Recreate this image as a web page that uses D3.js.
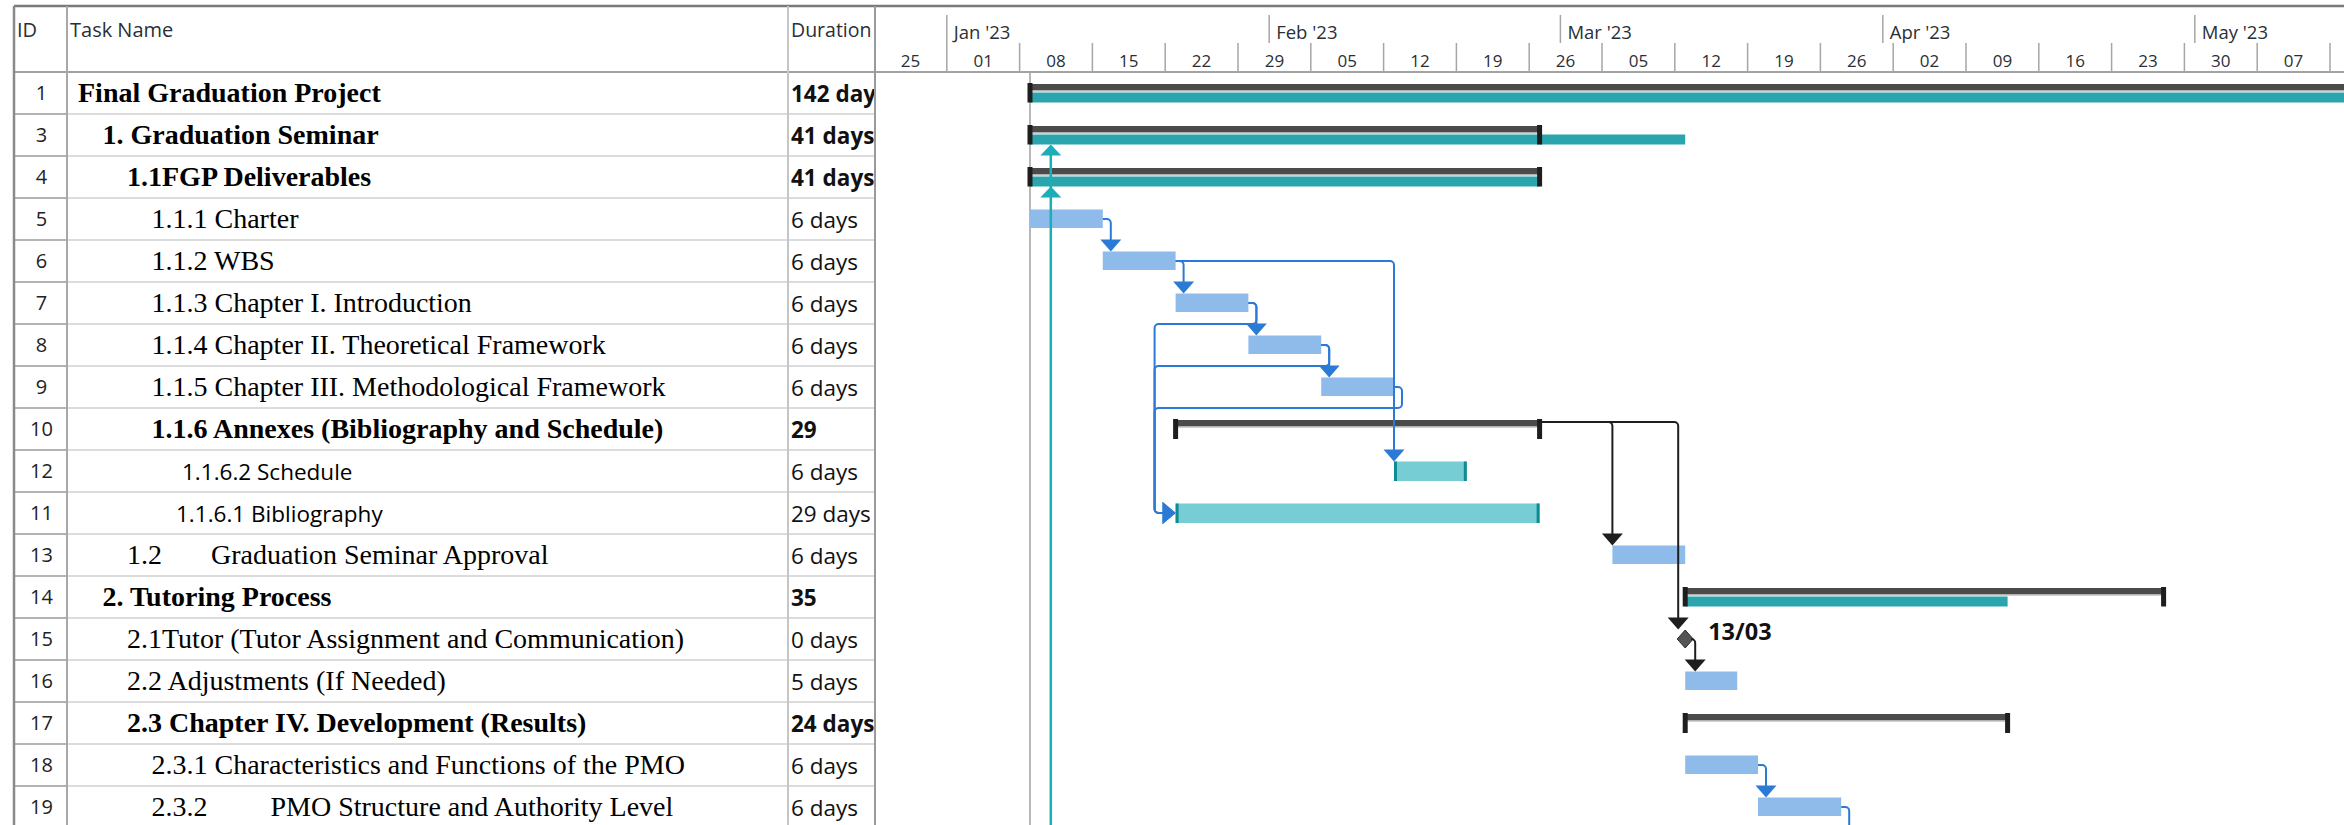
<!DOCTYPE html>
<html>
<head>
<meta charset="utf-8">
<script src="https://cdn.jsdelivr.net/npm/d3@7"></script>
<style>
  html, body { margin: 0; padding: 0; background: #fff; }
  svg { display: block; }
  text { white-space: pre; }
</style>
</head>
<body>
<svg id="chart" width="2344" height="825"></svg>
<script>
// ---------------- DATA ----------------
const ids = ["1","3","4","5","6","7","8","9","10","12","11","13","14","15","16","17","18","19"];
const taskNames = [
  "Final Graduation Project",
  "1. Graduation Seminar",
  "1.1FGP Deliverables",
  "1.1.1 Charter",
  "1.1.2 WBS",
  "1.1.3 Chapter I. Introduction",
  "1.1.4 Chapter II. Theoretical Framework",
  "1.1.5 Chapter III. Methodological Framework",
  "1.1.6 Annexes (Bibliography and Schedule)",
  "1.1.6.2 Schedule",
  "1.1.6.1 Bibliography",
  "1.2       Graduation Seminar Approval",
  "2. Tutoring Process",
  "2.1Tutor (Tutor Assignment and Communication)",
  "2.2 Adjustments (If Needed)",
  "2.3 Chapter IV. Development (Results)",
  "2.3.1 Characteristics and Functions of the PMO",
  "2.3.2         PMO Structure and Authority Level"
];
const durations = ["142 days","41 days","41 days","6 days","6 days","6 days","6 days","6 days","29","6 days","29 days","6 days","35","0 days","5 days","24 days","6 days","6 days"];
const outlineLevels = [0,1,2,3,3,3,3,3,3,4,4,2,1,2,2,2,3,3];
const taskTypes = ["summary","summary","summary","task","task","task","task","task","summary","task","task","task","summary","milestone","task","summary","task","task"];
const startDates = ["2023-01-09","2023-01-09","2023-01-09","2023-01-09","2023-01-16","2023-01-23","2023-01-30","2023-02-06","2023-01-23","2023-02-13","2023-01-23","2023-03-06","2023-03-13","2023-03-13","2023-03-13","2023-03-13","2023-03-13","2023-03-20"];
const finishDates = ["2023-06-20","2023-02-27","2023-02-27","2023-01-16","2023-01-23","2023-01-30","2023-02-06","2023-02-13","2023-02-27","2023-02-20","2023-02-27","2023-03-13","2023-04-28","2023-03-13","2023-03-18","2023-04-13","2023-03-20","2023-03-28"];
// teal bar under summary rows (null = none)
const tealFinishDates = ["2023-06-20","2023-03-13","2023-02-27",null,null,null,null,null,null,null,null,null,"2023-04-13",null,null,null,null,null];
const milestoneLabels = {"15": "13/03"};
const linkFrom = ["5","6","6","7","7","8","8","9","10","10","15","18","19"];
const linkTo   = ["6","7","12","8","11","9","11","11","13","15","16","19","20"];
const timelineStart = "2022-12-25";
const timelineEnd = "2023-05-14";
const projectStart = "2023-01-09";
const progressDate = "2023-01-11";
const progressRows = ["3","4"];

// ---------------- LAYOUT ----------------
const W = 2344, H = 825;
const parse = d3.utcParse("%Y-%m-%d");
const headerBottom = 72, rowH = 42;
const colLeft = 14, colId = 67, colName = 788, colDur = 875;

const x = d3.scaleUtc().domain([parse(timelineStart), parse(timelineEnd)]).range([874, 2330]);
const y = d3.scaleBand().domain(ids).range([headerBottom, headerBottom + rowH * ids.length]);
const cy = id => y(id) + rowH / 2;

const tasks = ids.map((id, i) => ({
  id, name: taskNames[i], dur: durations[i], level: outlineLevels[i], type: taskTypes[i],
  start: parse(startDates[i]), finish: parse(finishDates[i]),
  teal: tealFinishDates[i] ? parse(tealFinishDates[i]) : null
}));
const byId = new Map(tasks.map(t => [t.id, t]));
const altBarIds = new Set(["12","11"]);

const svg = d3.select("#chart");
const defs = svg.append("defs");
defs.append("clipPath").attr("id","ganttClip").append("rect")
  .attr("x", colDur + 1).attr("y", 7).attr("width", W - colDur).attr("height", H);
defs.append("clipPath").attr("id","durClip").append("rect")
  .attr("x", colName).attr("y", 0).attr("width", colDur - colName - 1).attr("height", H);

const sans = "'Open Sans', 'Noto Sans', sans-serif";
const serif = "'Liberation Serif', 'Times New Roman', serif";

// ---------------- TABLE ----------------
const table = svg.append("g");
tasks.forEach(t => {
  const yb = y(t.id) + rowH;
  table.append("line").attr("x1", colId).attr("x2", colDur).attr("y1", yb).attr("y2", yb)
    .attr("stroke", "#dcdcdc").attr("stroke-width", 2);
  table.append("line").attr("x1", colLeft).attr("x2", colId).attr("y1", yb).attr("y2", yb)
    .attr("stroke", "#b4b4b4").attr("stroke-width", 2);
});
table.append("text").attr("x", 17).attr("y", 37).text("ID")
  .attr("font-family", sans).attr("font-size", 20).attr("fill", "#2a2f36");
table.append("text").attr("x", 70).attr("y", 37).text("Task Name")
  .attr("font-family", sans).attr("font-size", 20).attr("fill", "#2a2f36");
table.append("text").attr("x", 791).attr("y", 37).text("Duration")
  .attr("font-family", sans).attr("font-size", 19.5).attr("fill", "#2a2f36");

table.selectAll("text.id").data(tasks).join("text").attr("class","id")
  .attr("x", (colLeft + colId) / 2 + 1).attr("y", d => cy(d.id) + 6.5)
  .attr("text-anchor", "middle").attr("font-family", sans).attr("font-size", 20)
  .attr("fill", "#222").text(d => d.id);
table.selectAll("text.name").data(tasks).join("text").attr("class","name")
  .attr("x", d => 78 + d.level * 24.5 + (d.id === "12" ? 6 : 0))
  .attr("y", d => cy(d.id) + 8.5)
  .attr("font-family", d => altBarIds.has(d.id) ? sans : serif)
  .attr("font-size", d => altBarIds.has(d.id) ? 22.5 : 28)
  .attr("font-weight", d => d.type === "summary" ? "bold" : "normal")
  .attr("fill", "#000").text(d => d.name);
table.append("g").attr("clip-path", "url(#durClip)")
  .selectAll("text").data(tasks).join("text")
  .attr("x", 791).attr("y", d => cy(d.id) + 8.5)
  .attr("font-family", sans).attr("font-size", 22.5)
  .attr("font-weight", d => d.type === "summary" ? "bold" : "normal")
  .attr("fill", "#111").text(d => d.dur);

// ---------------- TIMESCALE HEADER ----------------
const hdr = svg.append("g").attr("clip-path", "url(#ganttClip)");
const weeks = d3.utcSunday.range(x.domain()[0], d3.utcDay.offset(x.domain()[1], 1));
const labelWeeks = weeks.filter(d => (x(d) + x(d3.utcWeek.offset(d, 1))) / 2 + 14 < W);
const months = d3.utcMonth.range(d3.utcDay.offset(x.domain()[0], 1), x.domain()[1]);
hdr.selectAll("line.wk").data(weeks).join("line").attr("class","wk")
  .attr("x1", d => x(d)).attr("x2", d => x(d)).attr("y1", 43).attr("y2", headerBottom)
  .attr("stroke", "#a6a6a6").attr("stroke-width", 1.5);
hdr.selectAll("text.wk").data(labelWeeks).join("text").attr("class","wk")
  .attr("x", d => (x(d) + x(d3.utcWeek.offset(d, 1))) / 2).attr("y", 67)
  .attr("text-anchor", "middle").attr("font-family", sans).attr("font-size", 17)
  .attr("fill", "#2a2f36").text(d3.utcFormat("%d"));
hdr.selectAll("line.mo").data(months).join("line").attr("class","mo")
  .attr("x1", d => x(d)).attr("x2", d => x(d)).attr("y1", 15).attr("y2", 43)
  .attr("stroke", "#a6a6a6").attr("stroke-width", 1.5);
hdr.selectAll("text.mo").data(months).join("text").attr("class","mo")
  .attr("x", d => x(d) + 7).attr("y", 39)
  .attr("font-family", sans).attr("font-size", 18.5).attr("fill", "#2a2f36")
  .text(d3.utcFormat("%b '%y"));

// ---------------- GANTT ----------------
const g = svg.append("g").attr("clip-path", "url(#ganttClip)");
g.append("line").attr("x1", x(parse(projectStart))).attr("x2", x(parse(projectStart)))
  .attr("y1", headerBottom).attr("y2", H).attr("stroke", "#a0a0a0").attr("stroke-width", 1.5);

const DARK = "#4b4b4b", CAP = "#1e1e1e", TEAL = "#2aa5ad", BLUE = "#8ebbea",
      LTEAL = "#77cdd4", DTEAL = "#0f8b93", LINKBLUE = "#2b7bd6", LINKBLACK = "#1e1e1e";

tasks.forEach(t => {
  const c = cy(t.id);
  const x0 = x(t.start), x1 = x(t.finish);
  if (t.type === "summary") {
    g.append("rect").attr("x", x0).attr("y", c - 9).attr("width", x1 - x0).attr("height", 6.5).attr("fill", DARK);
    g.append("rect").attr("x", x0).attr("y", c - 2.5).attr("width", x1 - x0).attr("height", 1.2).attr("fill", "#bdbdbd");
    if (t.teal) {
      const xt = x(t.teal);
      g.append("rect").attr("x", x0).attr("y", c - 0.5).attr("width", xt - x0).attr("height", 10).attr("fill", TEAL);
    }
    const capBottom = t.teal ? c + 9.5 : c + 10;
    [x0, x1].forEach(xc => g.append("rect").attr("x", xc - 2.5).attr("y", c - 10)
      .attr("width", 5).attr("height", capBottom - (c - 10)).attr("fill", CAP));
  } else if (t.type === "milestone") {
    g.append("path").attr("d", `M${x0},${c - 9}L${x0 + 8},${c}L${x0},${c + 9}L${x0 - 8},${c}Z`)
      .attr("fill", "#555").attr("stroke", "#2c2c2c").attr("stroke-width", 1);
    if (milestoneLabels[t.id]) {
      g.append("text").attr("x", x0 + 23).attr("y", c + 1).attr("font-family", sans)
        .attr("font-weight", "bold").attr("font-size", 23.5).attr("fill", "#111")
        .text(milestoneLabels[t.id]);
    }
  } else if (altBarIds.has(t.id)) {
    g.append("rect").attr("x", x0).attr("y", c - 9.5).attr("width", x1 - x0).attr("height", 19.5).attr("fill", LTEAL);
    [x0, x1 - 3].forEach(xc => g.append("rect").attr("x", xc).attr("y", c - 9.5)
      .attr("width", 3).attr("height", 19.5).attr("fill", DTEAL));
  } else {
    g.append("rect").attr("x", x0).attr("y", c - 9.5).attr("width", x1 - x0).attr("height", 18.5).attr("fill", BLUE);
  }
});

function rounded(pts, r) {
  const p = d3.path();
  p.moveTo(pts[0][0], pts[0][1]);
  for (let i = 1; i < pts.length - 1; i++) p.arcTo(pts[i][0], pts[i][1], pts[i + 1][0], pts[i + 1][1], r);
  p.lineTo(pts[pts.length - 1][0], pts[pts.length - 1][1]);
  return p.toString();
}
linkFrom.forEach((fromId, i) => {
  const pred = byId.get(fromId), succ = byId.get(linkTo[i]);
  const color = (pred.type === "summary" || pred.type === "milestone") ? LINKBLACK : LINKBLUE;
  const pc = cy(pred.id);
  const predY = pred.type === "summary" ? pc - 7 : pc;
  const predEnd = pred.type === "milestone" ? x(pred.finish) + 8 : x(pred.finish);
  const off = pred.type === "milestone" ? 2 : 8;
  const link = g.append("g");
  if (!succ) {
    const xv = predEnd + off;
    link.append("path").attr("d", rounded([[predEnd, predY], [xv, predY], [xv, H + 5]], 4))
      .attr("fill", "none").attr("stroke", color).attr("stroke-width", 2);
    return;
  }
  const sc = cy(succ.id);
  let sx = x(succ.start);
  if (succ.type === "milestone") sx -= 7;
  if (sx >= predEnd - 10) {
    const xv = Math.max(sx, predEnd + off);
    const top = sc - 9.5;
    link.append("path").attr("d", rounded([[predEnd, predY], [xv, predY], [xv, top - 11]], 4))
      .attr("fill", "none").attr("stroke", color).attr("stroke-width", 2);
    link.append("path").attr("d", `M${xv},${top}L${xv - 10.5},${top - 12}L${xv + 10.5},${top - 12}Z`).attr("fill", color);
  } else {
    const xv1 = predEnd + off;
    const yb = y(pred.id) + rowH;
    const xv2 = sx - 21;
    link.append("path").attr("d", rounded([[predEnd, predY], [xv1, predY], [xv1, yb], [xv2, yb], [xv2, sc], [sx - 12, sc]], 4))
      .attr("fill", "none").attr("stroke", color).attr("stroke-width", 2);
    link.append("path").attr("d", `M${sx},${sc}L${sx - 13},${sc - 11}L${sx - 13},${sc + 11}Z`).attr("fill", color);
  }
});

const px = x(parse(progressDate));
const firstTip = cy(progressRows[0]) + 9.5;
g.append("line").attr("x1", px).attr("x2", px).attr("y1", firstTip + 2).attr("y2", H)
  .attr("stroke", "#1aaeb8").attr("stroke-width", 2.5);
progressRows.forEach(id => {
  const tip = cy(id) + 9.5;
  g.append("path").attr("d", `M${px},${tip}L${px + 10.5},${tip + 11}L${px - 10.5},${tip + 11}Z`).attr("fill", "#1aaeb8");
});

// ---------------- FRAME LINES ----------------
const frame = svg.append("g");
frame.append("line").attr("x1", colLeft).attr("x2", W).attr("y1", 6).attr("y2", 6).attr("stroke", "#7a7a7a").attr("stroke-width", 2.5);
frame.append("line").attr("x1", colLeft).attr("x2", W).attr("y1", headerBottom).attr("y2", headerBottom).attr("stroke", "#a3a3a3").attr("stroke-width", 2);
frame.append("line").attr("x1", colLeft).attr("x2", colLeft).attr("y1", 6).attr("y2", H).attr("stroke", "#8a8a8a").attr("stroke-width", 2.5);
frame.append("line").attr("x1", colId).attr("x2", colId).attr("y1", 6).attr("y2", H).attr("stroke", "#a8a8a8").attr("stroke-width", 2);
frame.append("line").attr("x1", colName).attr("x2", colName).attr("y1", 6).attr("y2", H).attr("stroke", "#c6c6c6").attr("stroke-width", 2);
frame.append("line").attr("x1", colDur).attr("x2", colDur).attr("y1", 6).attr("y2", H).attr("stroke", "#9a9a9a").attr("stroke-width", 2);
</script>
</body>
</html>
